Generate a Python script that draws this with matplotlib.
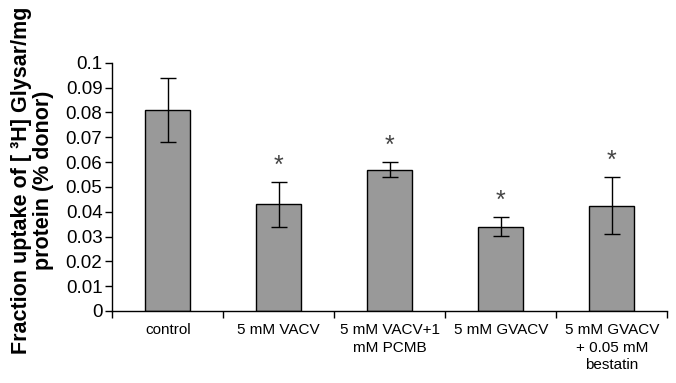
import numpy as np
import matplotlib.pyplot as plt

plt.rcParams['font.family'] = ['Liberation Sans', 'DejaVu Sans']

# data
groups = ["control", "5 mM VACV", "5 mM VACV+1\nmM PCMB", "5 mM GVACV",
          "5 mM GVACV\n+ 0.05 mM\nbestatin"]
uptake = [0.081, 0.043, 0.057, 0.034, 0.0425]
sem = [0.013, 0.009, 0.003, 0.0037, 0.0113]
significant = [False, True, True, True, True]

fig = plt.figure(figsize=(6.76, 3.83), dpi=100)
ax = fig.add_axes([0.166, 0.188, 0.821, 0.648])

x = np.arange(len(groups))
ax.bar(x, uptake, width=0.41, color="#999999", edgecolor="black", linewidth=1.0,
       yerr=sem, error_kw=dict(ecolor="black", elinewidth=1.0, capsize=6, capthick=1.0))

# asterisks above the error bars
for xi, v, e, s in zip(x, uptake, sem, significant):
    if s:
        ax.text(xi, v + e + 0.0065, "*", ha="center", va="center",
                fontsize=18, color="#444444")

ax.set_xlim(-0.5, len(groups) - 0.5)
ax.set_ylim(0, 0.1)
ax.set_yticks(np.arange(0, 0.101, 0.01))
ax.set_yticklabels(["0", "0.01", "0.02", "0.03", "0.04", "0.05", "0.06",
                    "0.07", "0.08", "0.09", "0.1"])
ax.tick_params(axis="y", labelsize=13.5, length=5, width=1, direction="out", pad=2)

# category boundaries as ticks, names in between
ax.set_xticks(np.arange(-0.5, len(groups), 1.0))
ax.set_xticklabels([])
ax.set_xticks(x, minor=True)
ax.set_xticklabels(groups, minor=True, fontsize=11, linespacing=1.3)
ax.tick_params(axis="x", which="minor", length=0, pad=9)
ax.tick_params(axis="x", which="major", length=5, width=1, direction="out")

for side in ["top", "right"]:
    ax.spines[side].set_visible(False)
ax.spines["left"].set_linewidth(1)
ax.spines["bottom"].set_linewidth(1)

ax.set_ylabel("Fraction uptake of [ ³H] Glysar/mg\nprotein (% donor)",
              fontsize=15.5, fontweight="bold", linespacing=1.1)
ax.yaxis.set_label_coords(-0.104, 0.525)

fig.savefig("out.png", dpi=100)
